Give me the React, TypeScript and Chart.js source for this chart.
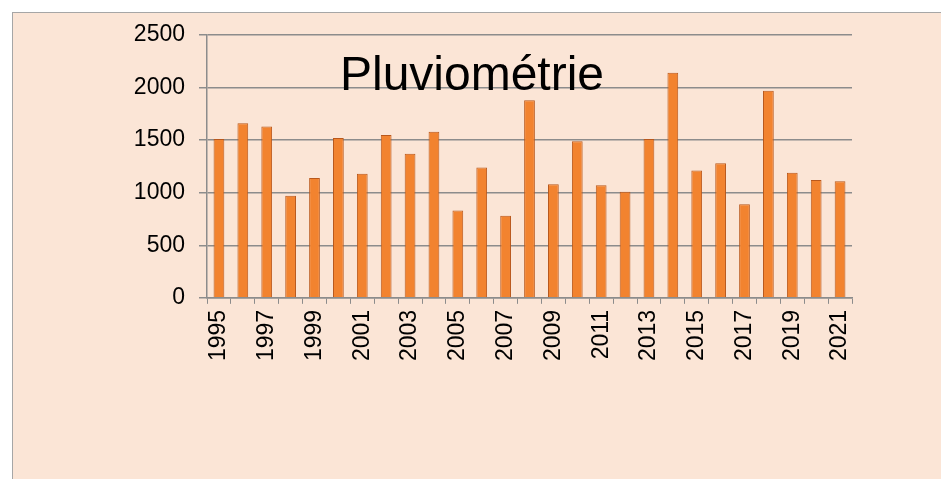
import React, { useEffect, useRef } from "react";
import { Chart, registerables } from "chart.js";

Chart.register(...registerables);

const years: string[] = [
  "1995", "1996", "1997", "1998", "1999", "2000", "2001", "2002", "2003",
  "2004", "2005", "2006", "2007", "2008", "2009", "2010", "2011", "2012",
  "2013", "2014", "2015", "2016", "2017", "2018", "2019", "2020", "2021",
];

const rainfall: number[] = [
  1510, 1660, 1630, 970, 1140, 1520, 1180, 1550, 1370,
  1580, 830, 1240, 780, 1880, 1080, 1490, 1070, 1010,
  1510, 2140, 1210, 1280, 890, 1970, 1190, 1120, 1110,
];

const titleText = "Pluviométrie";
const yMax = 2500;
const yStep = 500;

const FONT = "'Liberation Sans', Arial, sans-serif";

export default function App() {
  const canvasRef = useRef<HTMLCanvasElement | null>(null);

  useEffect(() => {
    document.body.style.overflow = "hidden";
    const canvas = canvasRef.current;
    if (!canvas) return;

    const titlePlugin = {
      id: "innerTitle",
      afterDraw(chart: any) {
        const { ctx, chartArea } = chart;
        ctx.save();
        ctx.font = `48px ${FONT}`;
        ctx.fillStyle = "#000000";
        ctx.textAlign = "center";
        ctx.textBaseline = "alphabetic";
        ctx.fillText(titleText, 459, chartArea.top + 55);
        ctx.restore();
      },
    };

    const chart = new Chart(canvas, {
      type: "bar",
      data: {
        labels: years,
        datasets: [
          {
            label: "Pluviométrie",
            data: rainfall,
            backgroundColor: "#F2832F",
            borderColor: "#B9581C",
            borderWidth: 1,
            barPercentage: 0.9,
            categoryPercentage: 0.5,
          },
        ],
      },
      options: {
        responsive: false,
        animation: false,
        layout: { padding: { top: 22, left: 0, right: 97, bottom: 112 } },
        plugins: {
          legend: { display: false },
          title: { display: false },
          tooltip: { enabled: false },
        },
        scales: {
          x: {
            offset: true,
            grid: {
              display: true,
              drawOnChartArea: false,
              offset: true,
              color: "#8C8C8C",
              tickLength: 6,
            },
            border: { display: true, color: "#8C8C8C", width: 1.5 },
            ticks: {
              autoSkip: false,
              maxRotation: 90,
              minRotation: 90,
              color: "#000000",
              font: { family: FONT, size: 23 },
              padding: 6,
              callback: (_v: any, i: number) => (i % 2 === 0 ? years[i] : ""),
            },
          },
          y: {
            min: 0,
            max: yMax,
            afterFit: (scale: any) => {
              scale.width = 194;
              scale.paddingTop = 0;
              scale.paddingBottom = 0;
            },
            ticks: {
              stepSize: yStep,
              color: "#000000",
              font: { family: FONT, size: 23 },
              padding: 14,
              callback: (v: any) => String(v),
            },
            grid: {
              color: "#8C8C8C",
              lineWidth: 1.5,
              tickLength: 8,
            },
            border: { display: true, color: "#8C8C8C", width: 1.5 },
          },
        },
      },
      plugins: [titlePlugin],
    });

    return () => chart.destroy();
  }, []);

  return (
    <div
      style={{
        marginLeft: 4,
        marginTop: 4,
        width: 937,
        height: 467,
        background: "#FBE5D6",
        borderLeft: "1px solid #A6A6A6",
        borderTop: "1px solid #A6A6A6",
        boxSizing: "border-box",
        overflow: "hidden",
      }}
    >
      <canvas ref={canvasRef} width={936} height={466} style={{ display: "block" }} />
    </div>
  );
}
